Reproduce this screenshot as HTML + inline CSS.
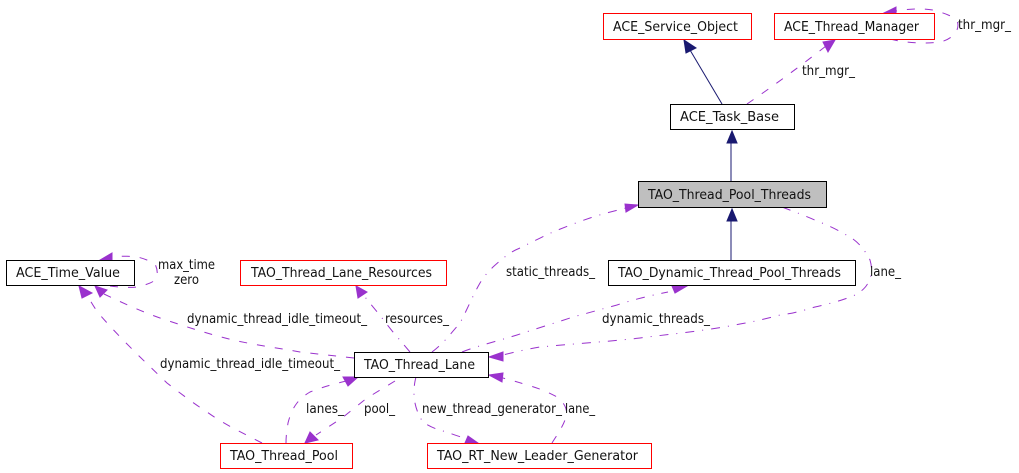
<!DOCTYPE html>
<html><head><meta charset="utf-8"><style>
html,body{margin:0;padding:0;background:#fff;width:1019px;height:473px;overflow:hidden}
svg{display:block}
text{font-family:"DejaVu Sans","Liberation Sans",sans-serif;font-size:13.5px;fill:#111}
.b{fill:#fff;stroke:#000;stroke-width:1}
.r{fill:#fff;stroke:#f00;stroke-width:1}
.e{fill:none;stroke:#9a32cd;stroke-width:1;stroke-dasharray:8,10}
.d{fill:none;stroke:#9a32cd;stroke-width:1;stroke-dasharray:9,8,1,8}
.n{fill:none;stroke:#191970;stroke-width:1}
.ah{fill:#9a32cd;stroke:#9a32cd}
.an{fill:#191970;stroke:#191970}
</style></head><body>
<svg width="1019" height="473" viewBox="0 0 1019 473" xmlns="http://www.w3.org/2000/svg">
<path class="n" d="M722 104L690 50"/>
<polygon class="an" points="684,40 696,48 686,53"/>
<path class="e" d="M747 104Q785 78 826 46"/>
<polygon class="ah" points="835,40 828,52 823,42"/>
<path class="e" d="M890 39C905 43 925 44 940 42C950 40 958 33 958 25C958 18 948 14 933 10C920 8 908 9 896 11"/>
<polygon class="ah" points="884,13 896,7 896,16"/>
<path class="n" d="M731 181V142"/>
<polygon class="an" points="732,131 737,143 727,143"/>
<path class="n" d="M731 260V220"/>
<polygon class="an" points="732,209 737,221 727,221"/>
<path class="d" d="M432 352C445 342 452 332 460 323C468 308 473 295 480 283C485 275 488 272 493 267C503 258 510 252 520 248C530 243 542 237 553 232C565 227 578 222 590 218C602 214 614 211 626 208"/>
<polygon class="ah" points="638,205 626,212 625,204"/>
<path class="d" d="M782 207C795 212 806 216 817 221C830 226 842 232 853 239C860 244 866 252 870 260C873 270 871 278 868 283C865 289 860 292 855 295C848 298 842 300 835 302C828 304 820 306 815 307C808 309 802 311 797 312C790 314 785 314 780 315C765 319 752 322 740 324C705 331 670 334 640 338C605 342 570 344 540 347C528 349 515 352 503 355"/>
<polygon class="ah" points="489,357 503,352 503,361"/>
<path class="d" d="M462 352C480 345 498 341 517 335C535 329 555 323 573 317C588 313 602 309 617 305C632 300 648 296 668 292"/>
<polygon class="ah" points="687,286 672,286 675,293"/>
<path class="d" d="M410 352C404 345 399 339 393 332C388 326 383 319 378 313C373 307 369 302 365 297"/>
<polygon class="ah" points="356,286 367,292 358,298"/>
<path class="e" d="M354 358C335 356 318 354 300 352C278 348 255 345 233 340C208 334 184 326 160 318C143 312 127 305 104 294"/>
<polygon class="ah" points="95,286 107,290 100,297"/>
<path class="e" d="M262 443C243 433 225 425 207 412C193 403 180 393 167 383C143 360 120 338 100 315C95 309 91 302 87 295"/>
<polygon class="ah" points="79,286 92,293 82,298"/>
<path class="e" d="M286 443C286 435 287 430 288 423C290 415 293 408 297 403C301 398 305 395 310 392C320 388 330 385 346 381"/>
<polygon class="ah" points="358,377 343,377 348,386"/>
<path class="e" d="M395 381L367 398L342 418L316 435"/>
<polygon class="ah" points="305,443 310,432 318,440"/>
<path class="d" d="M416 377C414 384 414 390 414 397C415 406 418 415 423 422C430 427 438 430 447 432C454 435 461 437 468 439"/>
<polygon class="ah" points="478,443 468,436 465,443"/>
<path class="e" d="M552 443C557 435 562 428 565 420C568 412 567 405 557 397C548 392 538 388 527 385C518 382 510 380 503 378"/>
<polygon class="ah" points="489,375 503,373 502,382"/>
<path class="e" d="M110 286C118 287 130 288 137 287C145 285 152 283 155 280C158 276 158 270 155 264C150 261 143 258 137 257C130 256 120 256 112 257"/>
<polygon class="ah" points="100,260 112,253 112,262"/>
<rect class="r" x="603.5" y="13.5" width="148" height="26"/>
<rect class="r" x="774.5" y="13.5" width="160" height="26"/>
<rect class="b" x="670.5" y="104.5" width="124" height="25"/>
<rect x="638.5" y="181.5" width="188" height="26" fill="#bfbfbf" stroke="#000"/>
<rect class="b" x="608.5" y="260.5" width="247" height="25"/>
<rect class="b" x="6.5" y="260.5" width="128" height="25"/>
<rect class="r" x="240.5" y="260.5" width="206" height="25"/>
<rect class="b" x="354.5" y="352.5" width="134" height="25"/>
<rect class="r" x="220.5" y="443.5" width="132" height="25"/>
<rect class="r" x="427.5" y="443.5" width="224" height="25"/>
<text x="613" y="31" textLength="125" lengthAdjust="spacingAndGlyphs">ACE_Service_Object</text>
<text x="784" y="31" textLength="135" lengthAdjust="spacingAndGlyphs">ACE_Thread_Manager</text>
<text x="680" y="121" textLength="99" lengthAdjust="spacingAndGlyphs">ACE_Task_Base</text>
<text x="648" y="199" textLength="163" lengthAdjust="spacingAndGlyphs">TAO_Thread_Pool_Threads</text>
<text x="618" y="277" textLength="223" lengthAdjust="spacingAndGlyphs">TAO_Dynamic_Thread_Pool_Threads</text>
<text x="16" y="277" textLength="104" lengthAdjust="spacingAndGlyphs">ACE_Time_Value</text>
<text x="251" y="277" textLength="181" lengthAdjust="spacingAndGlyphs">TAO_Thread_Lane_Resources</text>
<text x="364" y="369" textLength="111" lengthAdjust="spacingAndGlyphs">TAO_Thread_Lane</text>
<text x="230" y="460" textLength="108" lengthAdjust="spacingAndGlyphs">TAO_Thread_Pool</text>
<text x="437" y="460" textLength="201" lengthAdjust="spacingAndGlyphs">TAO_RT_New_Leader_Generator</text>
<text x="958" y="29" textLength="53" lengthAdjust="spacingAndGlyphs">thr_mgr_</text>
<text x="802" y="75" textLength="53" lengthAdjust="spacingAndGlyphs">thr_mgr_</text>
<text x="158" y="269" textLength="57" lengthAdjust="spacingAndGlyphs">max_time</text>
<text x="174" y="284" textLength="25" lengthAdjust="spacingAndGlyphs">zero</text>
<text x="187" y="323" textLength="180" lengthAdjust="spacingAndGlyphs">dynamic_thread_idle_timeout_</text>
<text x="160" y="368" textLength="180" lengthAdjust="spacingAndGlyphs">dynamic_thread_idle_timeout_</text>
<text x="385" y="323" textLength="64" lengthAdjust="spacingAndGlyphs">resources_</text>
<text x="506" y="276" textLength="89" lengthAdjust="spacingAndGlyphs">static_threads_</text>
<text x="870" y="276" textLength="31" lengthAdjust="spacingAndGlyphs">lane_</text>
<text x="602" y="323" textLength="108" lengthAdjust="spacingAndGlyphs">dynamic_threads_</text>
<text x="306" y="413" textLength="38" lengthAdjust="spacingAndGlyphs">lanes_</text>
<text x="364" y="413" textLength="31" lengthAdjust="spacingAndGlyphs">pool_</text>
<text x="422" y="413" textLength="140" lengthAdjust="spacingAndGlyphs">new_thread_generator_</text>
<text x="565" y="413" textLength="30" lengthAdjust="spacingAndGlyphs">lane_</text>
</svg>
</body></html>
